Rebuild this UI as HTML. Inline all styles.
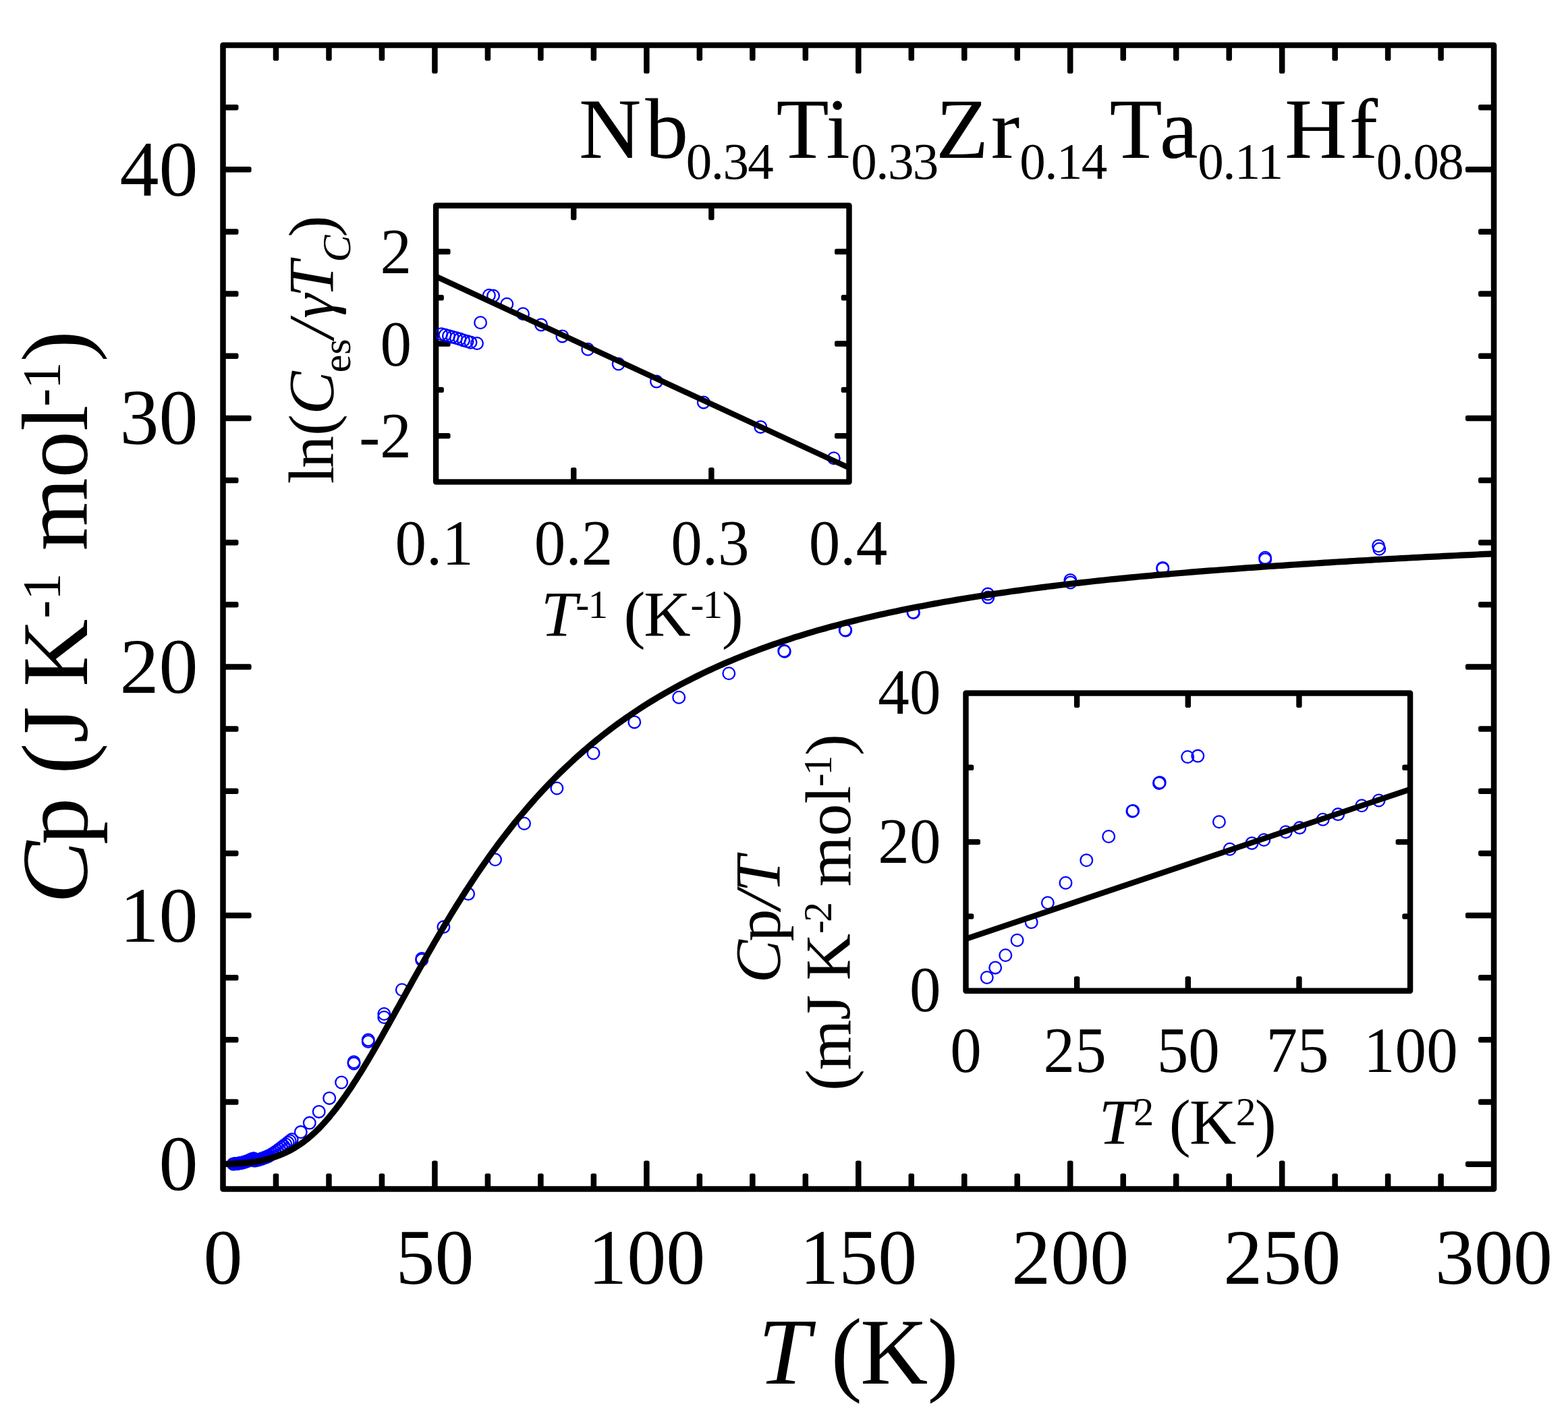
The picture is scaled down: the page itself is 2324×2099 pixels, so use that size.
<!DOCTYPE html>
<html lang="en">
<head>
<meta charset="utf-8">
<title>Specific heat of Nb0.34Ti0.33Zr0.14Ta0.11Hf0.08</title>
<style>html,body{margin:0;padding:0;background:#fff}svg{display:block}</style>
</head>
<body>
<svg width="2324" height="2099" viewBox="0 0 2324 2099" font-family="'Liberation Serif', serif" fill="#000">
<rect width="2324" height="2099" fill="#fff"/>
<defs>
<clipPath id="c_main"><rect x="330.5" y="67.0" width="1883.60" height="1695.50"/></clipPath>
<clipPath id="c_in1"><rect x="646.1" y="304.7" width="612.40" height="409.70"/></clipPath>
<clipPath id="c_in2"><rect x="1431.5" y="1027.5" width="658.60" height="441.20"/></clipPath>
</defs>
<rect x="330.5" y="67.0" width="1883.60" height="1695.50" fill="none" stroke="#000" stroke-width="8.5" stroke-linejoin="round"/>
<g fill="#000"><rect x="640.18" y="1720.40" width="8.5" height="43.10" rx="2.8"/><rect x="640.18" y="66.00" width="8.5" height="43.10" rx="2.8"/><rect x="954.12" y="1720.40" width="8.5" height="43.10" rx="2.8"/><rect x="954.12" y="66.00" width="8.5" height="43.10" rx="2.8"/><rect x="1268.05" y="1720.40" width="8.5" height="43.10" rx="2.8"/><rect x="1268.05" y="66.00" width="8.5" height="43.10" rx="2.8"/><rect x="1581.98" y="1720.40" width="8.5" height="43.10" rx="2.8"/><rect x="1581.98" y="66.00" width="8.5" height="43.10" rx="2.8"/><rect x="1895.92" y="1720.40" width="8.5" height="43.10" rx="2.8"/><rect x="1895.92" y="66.00" width="8.5" height="43.10" rx="2.8"/><rect x="404.73" y="1739.50" width="8.5" height="24.00" rx="2.8"/><rect x="404.73" y="66.00" width="8.5" height="24.00" rx="2.8"/><rect x="483.22" y="1739.50" width="8.5" height="24.00" rx="2.8"/><rect x="483.22" y="66.00" width="8.5" height="24.00" rx="2.8"/><rect x="561.70" y="1739.50" width="8.5" height="24.00" rx="2.8"/><rect x="561.70" y="66.00" width="8.5" height="24.00" rx="2.8"/><rect x="718.67" y="1739.50" width="8.5" height="24.00" rx="2.8"/><rect x="718.67" y="66.00" width="8.5" height="24.00" rx="2.8"/><rect x="797.15" y="1739.50" width="8.5" height="24.00" rx="2.8"/><rect x="797.15" y="66.00" width="8.5" height="24.00" rx="2.8"/><rect x="875.63" y="1739.50" width="8.5" height="24.00" rx="2.8"/><rect x="875.63" y="66.00" width="8.5" height="24.00" rx="2.8"/><rect x="1032.60" y="1739.50" width="8.5" height="24.00" rx="2.8"/><rect x="1032.60" y="66.00" width="8.5" height="24.00" rx="2.8"/><rect x="1111.08" y="1739.50" width="8.5" height="24.00" rx="2.8"/><rect x="1111.08" y="66.00" width="8.5" height="24.00" rx="2.8"/><rect x="1189.57" y="1739.50" width="8.5" height="24.00" rx="2.8"/><rect x="1189.57" y="66.00" width="8.5" height="24.00" rx="2.8"/><rect x="1346.53" y="1739.50" width="8.5" height="24.00" rx="2.8"/><rect x="1346.53" y="66.00" width="8.5" height="24.00" rx="2.8"/><rect x="1425.02" y="1739.50" width="8.5" height="24.00" rx="2.8"/><rect x="1425.02" y="66.00" width="8.5" height="24.00" rx="2.8"/><rect x="1503.50" y="1739.50" width="8.5" height="24.00" rx="2.8"/><rect x="1503.50" y="66.00" width="8.5" height="24.00" rx="2.8"/><rect x="1660.47" y="1739.50" width="8.5" height="24.00" rx="2.8"/><rect x="1660.47" y="66.00" width="8.5" height="24.00" rx="2.8"/><rect x="1738.95" y="1739.50" width="8.5" height="24.00" rx="2.8"/><rect x="1738.95" y="66.00" width="8.5" height="24.00" rx="2.8"/><rect x="1817.43" y="1739.50" width="8.5" height="24.00" rx="2.8"/><rect x="1817.43" y="66.00" width="8.5" height="24.00" rx="2.8"/><rect x="1974.40" y="1739.50" width="8.5" height="24.00" rx="2.8"/><rect x="1974.40" y="66.00" width="8.5" height="24.00" rx="2.8"/><rect x="2052.88" y="1739.50" width="8.5" height="24.00" rx="2.8"/><rect x="2052.88" y="66.00" width="8.5" height="24.00" rx="2.8"/><rect x="2131.37" y="1739.50" width="8.5" height="24.00" rx="2.8"/><rect x="2131.37" y="66.00" width="8.5" height="24.00" rx="2.8"/><rect x="329.50" y="1721.39" width="43.10" height="8.5" rx="2.8"/><rect x="2172.00" y="1721.39" width="43.10" height="8.5" rx="2.8"/><rect x="329.50" y="1352.80" width="43.10" height="8.5" rx="2.8"/><rect x="2172.00" y="1352.80" width="43.10" height="8.5" rx="2.8"/><rect x="329.50" y="984.22" width="43.10" height="8.5" rx="2.8"/><rect x="2172.00" y="984.22" width="43.10" height="8.5" rx="2.8"/><rect x="329.50" y="615.63" width="43.10" height="8.5" rx="2.8"/><rect x="2172.00" y="615.63" width="43.10" height="8.5" rx="2.8"/><rect x="329.50" y="247.04" width="43.10" height="8.5" rx="2.8"/><rect x="2172.00" y="247.04" width="43.10" height="8.5" rx="2.8"/><rect x="329.50" y="1629.24" width="24.00" height="8.5" rx="2.8"/><rect x="2191.10" y="1629.24" width="24.00" height="8.5" rx="2.8"/><rect x="329.50" y="1537.10" width="24.00" height="8.5" rx="2.8"/><rect x="2191.10" y="1537.10" width="24.00" height="8.5" rx="2.8"/><rect x="329.50" y="1444.95" width="24.00" height="8.5" rx="2.8"/><rect x="2191.10" y="1444.95" width="24.00" height="8.5" rx="2.8"/><rect x="329.50" y="1260.66" width="24.00" height="8.5" rx="2.8"/><rect x="2191.10" y="1260.66" width="24.00" height="8.5" rx="2.8"/><rect x="329.50" y="1168.51" width="24.00" height="8.5" rx="2.8"/><rect x="2191.10" y="1168.51" width="24.00" height="8.5" rx="2.8"/><rect x="329.50" y="1076.36" width="24.00" height="8.5" rx="2.8"/><rect x="2191.10" y="1076.36" width="24.00" height="8.5" rx="2.8"/><rect x="329.50" y="892.07" width="24.00" height="8.5" rx="2.8"/><rect x="2191.10" y="892.07" width="24.00" height="8.5" rx="2.8"/><rect x="329.50" y="799.92" width="24.00" height="8.5" rx="2.8"/><rect x="2191.10" y="799.92" width="24.00" height="8.5" rx="2.8"/><rect x="329.50" y="707.78" width="24.00" height="8.5" rx="2.8"/><rect x="2191.10" y="707.78" width="24.00" height="8.5" rx="2.8"/><rect x="329.50" y="523.48" width="24.00" height="8.5" rx="2.8"/><rect x="2191.10" y="523.48" width="24.00" height="8.5" rx="2.8"/><rect x="329.50" y="431.34" width="24.00" height="8.5" rx="2.8"/><rect x="2191.10" y="431.34" width="24.00" height="8.5" rx="2.8"/><rect x="329.50" y="339.19" width="24.00" height="8.5" rx="2.8"/><rect x="2191.10" y="339.19" width="24.00" height="8.5" rx="2.8"/><rect x="329.50" y="154.90" width="24.00" height="8.5" rx="2.8"/><rect x="2191.10" y="154.90" width="24.00" height="8.5" rx="2.8"/></g>
<text x="330.50" y="1902.50" font-size="116" text-anchor="middle">0</text>
<text x="644.43" y="1902.50" font-size="116" text-anchor="middle">50</text>
<text x="958.37" y="1902.50" font-size="116" text-anchor="middle">100</text>
<text x="1272.30" y="1902.50" font-size="116" text-anchor="middle">150</text>
<text x="1586.23" y="1902.50" font-size="116" text-anchor="middle">200</text>
<text x="1900.17" y="1902.50" font-size="116" text-anchor="middle">250</text>
<text x="2214.10" y="1902.50" font-size="116" text-anchor="middle">300</text>
<text x="293.62" y="1764.24" font-size="116" text-anchor="end">0</text>
<text x="293.62" y="1395.65" font-size="116" text-anchor="end">10</text>
<text x="293.62" y="1027.07" font-size="116" text-anchor="end">20</text>
<text x="293.62" y="658.48" font-size="116" text-anchor="end">30</text>
<text x="293.62" y="289.89" font-size="116" text-anchor="end">40</text>
<text font-size="139"><tspan x="1123.81" y="2050.80" font-style="italic">T </tspan><tspan x="1231.59" y="2050.80">(</tspan><tspan x="1274.90" y="2050.80">K</tspan><tspan x="1374.52" y="2050.80">)</tspan></text>
<text transform="translate(129.20 0) rotate(-90)" font-size="139"><tspan x="-1339.54" y="0.00" font-style="italic">C</tspan><tspan x="-1252.04" y="0.00">p </tspan><tspan x="-1147.81" y="0.00">(</tspan><tspan x="-1101.62" y="0.00">J </tspan><tspan x="-1017.90" y="0.00">K</tspan><tspan x="-916.81" y="-40.50" font-size="81">-</tspan><tspan x="-890.12" y="-40.50" font-size="81">1 </tspan><tspan x="-816.52" y="0.00">mol</tspan><tspan x="-602.71" y="-40.50" font-size="81">-</tspan><tspan x="-576.92" y="-40.50" font-size="81">1</tspan><tspan x="-536.48" y="0.00">)</tspan></text>
<text font-size="128"><tspan x="858.11" y="234.20">N</tspan><tspan x="956.30" y="234.20">b</tspan><tspan x="1016.87" y="265.10" font-size="77" letter-spacing="-1.6">0.34</tspan><tspan x="1150.59" y="234.20">Ti</tspan><tspan x="1261.37" y="265.10" font-size="77" letter-spacing="-1.6">0.33</tspan><tspan x="1386.97" y="234.20">Z</tspan><tspan x="1468.74" y="234.20">r</tspan><tspan x="1511.37" y="265.10" font-size="77" letter-spacing="-1.6">0.14</tspan><tspan x="1644.49" y="234.20">T</tspan><tspan x="1718.70" y="234.20">a</tspan><tspan x="1775.27" y="265.10" font-size="77" letter-spacing="-1.6">0.11</tspan><tspan x="1904.11" y="234.20">H</tspan><tspan x="1999.56" y="234.20">f</tspan><tspan x="2039.87" y="265.10" font-size="77" letter-spacing="-1.6">0.08</tspan></text>
<g clip-path="url(#c_main)" fill="none" stroke="#0000ff" stroke-width="2.3"><circle cx="345.6" cy="1725.4" r="8.85"/><circle cx="347.0" cy="1725.3" r="8.85"/><circle cx="348.3" cy="1725.2" r="8.85"/><circle cx="349.7" cy="1725.1" r="8.85"/><circle cx="351.1" cy="1724.9" r="8.85"/><circle cx="352.5" cy="1724.7" r="8.85"/><circle cx="353.9" cy="1724.5" r="8.85"/><circle cx="355.2" cy="1724.2" r="8.85"/><circle cx="356.6" cy="1724.0" r="8.85"/><circle cx="358.0" cy="1723.7" r="8.85"/><circle cx="359.4" cy="1723.4" r="8.85"/><circle cx="360.8" cy="1723.1" r="8.85"/><circle cx="362.1" cy="1722.7" r="8.85"/><circle cx="363.5" cy="1722.2" r="8.85"/><circle cx="364.9" cy="1721.8" r="8.85"/><circle cx="366.3" cy="1721.3" r="8.85"/><circle cx="367.7" cy="1720.7" r="8.85"/><circle cx="369.1" cy="1720.2" r="8.85"/><circle cx="370.4" cy="1719.5" r="8.85"/><circle cx="371.8" cy="1718.9" r="8.85"/><circle cx="373.2" cy="1718.3" r="8.85"/><circle cx="374.6" cy="1717.8" r="8.85"/><circle cx="376.0" cy="1717.2" r="8.85"/><circle cx="377.3" cy="1720.6" r="8.85"/><circle cx="378.7" cy="1720.3" r="8.85"/><circle cx="380.1" cy="1720.0" r="8.85"/><circle cx="381.5" cy="1719.6" r="8.85"/><circle cx="382.9" cy="1719.2" r="8.85"/><circle cx="384.2" cy="1718.8" r="8.85"/><circle cx="385.6" cy="1718.4" r="8.85"/><circle cx="387.0" cy="1718.0" r="8.85"/><circle cx="388.4" cy="1717.5" r="8.85"/><circle cx="389.8" cy="1717.0" r="8.85"/><circle cx="391.2" cy="1716.5" r="8.85"/><circle cx="392.5" cy="1716.0" r="8.85"/><circle cx="393.9" cy="1715.5" r="8.85"/><circle cx="395.3" cy="1714.9" r="8.85"/><circle cx="396.7" cy="1714.3" r="8.85"/><circle cx="398.1" cy="1713.7" r="8.85"/><circle cx="398.3" cy="1713.4" r="8.85"/><circle cx="401.4" cy="1711.8" r="8.85"/><circle cx="404.6" cy="1710.0" r="8.85"/><circle cx="407.7" cy="1707.9" r="8.85"/><circle cx="410.9" cy="1705.8" r="8.85"/><circle cx="414.0" cy="1703.4" r="8.85"/><circle cx="417.1" cy="1701.0" r="8.85"/><circle cx="420.3" cy="1698.6" r="8.85"/><circle cx="423.4" cy="1696.2" r="8.85"/><circle cx="426.6" cy="1693.8" r="8.85"/><circle cx="429.7" cy="1691.3" r="8.85"/><circle cx="432.7" cy="1689.0" r="8.85"/><circle cx="445.8" cy="1678.1" r="8.85"/><circle cx="458.8" cy="1664.6" r="8.85"/><circle cx="472.7" cy="1647.9" r="8.85"/><circle cx="488.2" cy="1627.9" r="8.85"/><circle cx="506.1" cy="1604.5" r="8.85"/><circle cx="524.5" cy="1574.3" r="8.85"/><circle cx="524.5" cy="1576.5" r="8.85"/><circle cx="545.8" cy="1541.5" r="8.85"/><circle cx="545.8" cy="1544.0" r="8.85"/><circle cx="569.3" cy="1503.0" r="8.85"/><circle cx="569.3" cy="1508.0" r="8.85"/><circle cx="595.8" cy="1467.2" r="8.85"/><circle cx="625.2" cy="1421.0" r="8.85"/><circle cx="625.2" cy="1423.0" r="8.85"/><circle cx="657.4" cy="1374.1" r="8.85"/><circle cx="694.1" cy="1325.1" r="8.85"/><circle cx="734.0" cy="1274.3" r="8.85"/><circle cx="777.0" cy="1220.7" r="8.85"/><circle cx="825.4" cy="1168.5" r="8.85"/><circle cx="879.5" cy="1116.5" r="8.85"/><circle cx="940.3" cy="1070.4" r="8.85"/><circle cx="1006.2" cy="1033.7" r="8.85"/><circle cx="1080.3" cy="998.3" r="8.85"/><circle cx="1162.2" cy="964.8" r="8.85"/><circle cx="1162.8" cy="965.8" r="8.85"/><circle cx="1252.7" cy="933.8" r="8.85"/><circle cx="1253.3" cy="934.6" r="8.85"/><circle cx="1353.5" cy="907.5" r="8.85"/><circle cx="1354.0" cy="908.3" r="8.85"/><circle cx="1464.1" cy="880.6" r="8.85"/><circle cx="1464.4" cy="885.6" r="8.85"/><circle cx="1586.4" cy="860.0" r="8.85"/><circle cx="1586.6" cy="863.5" r="8.85"/><circle cx="1723.3" cy="842.9" r="8.85"/><circle cx="1723.3" cy="841.9" r="8.85"/><circle cx="1875.1" cy="826.7" r="8.85"/><circle cx="1875.3" cy="829.2" r="8.85"/><circle cx="2043.1" cy="809.3" r="8.85"/><circle cx="2044.3" cy="813.8" r="8.85"/></g>
<path d="M330.5 1725.6 L333.6 1725.5 L336.8 1725.4 L339.9 1725.3 L343.1 1725.2 L346.2 1725.1 L349.3 1724.9 L352.5 1724.7 L355.6 1724.5 L358.8 1724.3 L361.9 1724.0 L365.0 1723.7 L368.2 1723.4 L371.3 1723.1 L374.5 1722.6 L377.6 1722.2 L380.7 1721.7 L383.9 1721.1 L387.0 1720.5 L390.1 1719.8 L393.3 1719.0 L396.4 1718.2 L399.6 1717.3 L402.7 1716.4 L405.8 1715.4 L409.0 1714.4 L412.1 1713.2 L415.3 1712.1 L418.4 1710.8 L421.5 1709.4 L424.7 1708.0 L427.8 1706.4 L431.0 1704.8 L434.1 1703.0 L437.2 1701.2 L440.4 1699.2 L443.5 1697.2 L446.7 1695.0 L449.8 1692.7 L452.9 1690.4 L456.1 1687.9 L459.2 1685.3 L462.4 1682.5 L465.5 1679.7 L468.6 1676.7 L471.8 1673.7 L474.9 1670.5 L478.0 1667.2 L481.2 1663.7 L484.3 1660.2 L487.5 1656.5 L490.6 1652.7 L493.7 1648.9 L496.9 1644.9 L500.0 1640.8 L503.2 1636.6 L506.3 1632.3 L509.4 1627.9 L512.6 1623.4 L515.7 1618.8 L518.9 1614.2 L522.0 1609.4 L525.1 1604.6 L528.3 1599.7 L531.4 1594.7 L534.6 1589.7 L537.7 1584.6 L540.8 1579.4 L544.0 1574.2 L547.1 1568.9 L550.3 1563.5 L553.4 1558.1 L556.5 1552.7 L559.7 1547.2 L562.8 1541.7 L566.0 1536.2 L569.1 1530.6 L572.2 1525.0 L575.4 1519.4 L578.5 1513.8 L581.6 1508.2 L584.8 1502.5 L587.9 1496.8 L591.1 1491.2 L594.2 1485.5 L597.3 1479.9 L600.5 1474.2 L603.6 1468.5 L606.8 1462.9 L609.9 1457.2 L613.0 1451.6 L616.2 1446.0 L619.3 1440.4 L622.5 1434.8 L625.6 1429.2 L628.7 1423.7 L631.9 1418.2 L635.0 1412.6 L638.2 1407.2 L641.3 1401.7 L644.4 1396.3 L647.6 1390.9 L650.7 1385.5 L653.9 1380.2 L657.0 1374.8 L660.1 1369.6 L663.3 1364.3 L666.4 1359.2 L669.5 1354.0 L672.7 1348.9 L675.8 1343.8 L679.0 1338.8 L682.1 1333.8 L685.2 1328.8 L688.4 1323.9 L691.5 1319.0 L694.7 1314.2 L697.8 1309.4 L700.9 1304.7 L704.1 1300.0 L707.2 1295.3 L713.5 1286.1 L719.8 1277.1 L726.1 1268.2 L732.3 1259.6 L738.6 1251.1 L744.9 1242.7 L751.2 1234.6 L757.4 1226.6 L763.7 1218.7 L770.0 1211.1 L776.3 1203.6 L782.6 1196.2 L788.8 1189.1 L795.1 1182.0 L801.4 1175.2 L807.7 1168.4 L814.0 1161.8 L820.2 1155.4 L826.5 1149.1 L832.8 1142.9 L839.1 1136.9 L845.4 1131.0 L851.6 1125.2 L857.9 1119.5 L864.2 1114.0 L870.5 1108.6 L876.7 1103.3 L883.0 1098.1 L889.3 1093.0 L895.6 1088.0 L901.9 1083.2 L908.1 1078.4 L914.4 1073.8 L920.7 1069.2 L927.0 1064.8 L933.3 1060.4 L939.5 1056.2 L945.8 1052.0 L952.1 1047.9 L958.4 1043.9 L964.6 1040.0 L970.9 1036.2 L977.2 1032.4 L983.5 1028.8 L989.8 1025.2 L996.0 1021.7 L1002.3 1018.2 L1008.6 1014.8 L1014.9 1011.5 L1021.2 1008.3 L1027.4 1005.1 L1033.7 1002.0 L1040.0 998.9 L1046.3 995.9 L1052.5 993.0 L1058.8 990.1 L1065.1 987.3 L1071.4 984.5 L1077.7 981.8 L1083.9 979.2 L1090.2 976.5 L1096.5 974.0 L1102.8 971.5 L1109.1 969.0 L1115.3 966.6 L1121.6 964.2 L1127.9 961.9 L1134.2 959.6 L1140.4 957.4 L1146.7 955.2 L1153.0 953.0 L1159.3 950.9 L1165.6 948.8 L1171.8 946.8 L1178.1 944.7 L1184.4 942.8 L1190.7 940.8 L1197.0 938.9 L1203.2 937.1 L1209.5 935.2 L1215.8 933.4 L1222.1 931.7 L1228.3 929.9 L1234.6 928.2 L1240.9 926.6 L1247.2 924.9 L1253.5 923.3 L1259.7 921.7 L1266.0 920.2 L1272.3 918.6 L1278.6 917.1 L1284.9 915.6 L1291.1 914.2 L1297.4 912.7 L1303.7 911.3 L1310.0 909.9 L1316.3 908.6 L1322.5 907.2 L1328.8 905.9 L1335.1 904.6 L1341.4 903.3 L1347.6 902.1 L1353.9 900.8 L1360.2 899.6 L1366.5 898.4 L1372.8 897.2 L1379.0 896.0 L1385.3 894.9 L1391.6 893.8 L1397.9 892.6 L1404.2 891.5 L1410.4 890.5 L1416.7 889.4 L1423.0 888.3 L1429.3 887.3 L1435.5 886.3 L1441.8 885.3 L1448.1 884.3 L1454.4 883.3 L1460.7 882.3 L1466.9 881.4 L1473.2 880.4 L1479.5 879.5 L1485.8 878.6 L1492.1 877.7 L1498.3 876.8 L1504.6 875.9 L1510.9 875.1 L1517.2 874.2 L1523.4 873.4 L1529.7 872.5 L1536.0 871.7 L1542.3 870.9 L1548.6 870.1 L1554.8 869.3 L1561.1 868.6 L1567.4 867.8 L1573.7 867.0 L1580.0 866.3 L1586.2 865.5 L1592.5 864.8 L1598.8 864.1 L1605.1 863.4 L1611.3 862.7 L1617.6 862.0 L1623.9 861.3 L1630.2 860.6 L1636.5 860.0 L1642.7 859.3 L1649.0 858.7 L1655.3 858.1 L1661.6 857.4 L1667.9 856.8 L1674.1 856.2 L1680.4 855.6 L1686.7 855.0 L1693.0 854.4 L1699.2 853.9 L1705.5 853.3 L1711.8 852.7 L1718.1 852.2 L1724.4 851.6 L1730.6 851.1 L1736.9 850.5 L1743.2 850.0 L1749.5 849.5 L1755.8 849.0 L1762.0 848.4 L1768.3 847.9 L1774.6 847.4 L1780.9 846.9 L1787.2 846.4 L1793.4 845.9 L1799.7 845.5 L1806.0 845.0 L1812.3 844.5 L1818.5 844.0 L1824.8 843.6 L1831.1 843.1 L1837.4 842.7 L1843.7 842.2 L1849.9 841.7 L1856.2 841.3 L1862.5 840.9 L1868.8 840.4 L1875.1 840.0 L1881.3 839.5 L1887.6 839.1 L1893.9 838.7 L1900.2 838.3 L1906.4 837.8 L1912.7 837.4 L1919.0 837.0 L1925.3 836.6 L1931.6 836.2 L1937.8 835.8 L1944.1 835.4 L1950.4 835.0 L1956.7 834.6 L1963.0 834.2 L1969.2 833.8 L1975.5 833.4 L1981.8 833.0 L1988.1 832.7 L1994.3 832.3 L2000.6 831.9 L2006.9 831.5 L2013.2 831.2 L2019.5 830.8 L2025.7 830.5 L2032.0 830.1 L2038.3 829.7 L2044.6 829.4 L2050.9 829.0 L2057.1 828.7 L2063.4 828.4 L2069.7 828.0 L2076.0 827.7 L2082.2 827.4 L2088.5 827.0 L2094.8 826.7 L2101.1 826.4 L2107.4 826.0 L2113.6 825.7 L2119.9 825.4 L2126.2 825.1 L2132.5 824.8 L2138.8 824.4 L2145.0 824.1 L2151.3 823.8 L2157.6 823.5 L2163.9 823.2 L2170.1 822.9 L2176.4 822.6 L2182.7 822.3 L2189.0 822.0 L2195.3 821.7 L2201.5 821.4 L2207.8 821.1 L2214.1 820.9" fill="none" stroke="#000" stroke-width="9.2" stroke-linejoin="round" clip-path="url(#c_main)"/>
<rect x="646.1" y="304.7" width="612.40" height="409.70" fill="none" stroke="#000" stroke-width="8.4" stroke-linejoin="round"/>
<g fill="#000"><rect x="846.03" y="692.90" width="8.4" height="22.50" rx="2.8"/><rect x="846.03" y="303.70" width="8.4" height="22.50" rx="2.8"/><rect x="1050.17" y="692.90" width="8.4" height="22.50" rx="2.8"/><rect x="1050.17" y="303.70" width="8.4" height="22.50" rx="2.8"/><rect x="645.10" y="368.78" width="22.50" height="8.4" rx="2.8"/><rect x="1237.00" y="368.78" width="22.50" height="8.4" rx="2.8"/><rect x="645.10" y="505.35" width="22.50" height="8.4" rx="2.8"/><rect x="1237.00" y="505.35" width="22.50" height="8.4" rx="2.8"/><rect x="645.10" y="641.92" width="22.50" height="8.4" rx="2.8"/><rect x="1237.00" y="641.92" width="22.50" height="8.4" rx="2.8"/><rect x="645.10" y="437.07" width="12.80" height="8.4" rx="2.8"/><rect x="1246.70" y="437.07" width="12.80" height="8.4" rx="2.8"/><rect x="645.10" y="573.63" width="12.80" height="8.4" rx="2.8"/><rect x="1246.70" y="573.63" width="12.80" height="8.4" rx="2.8"/></g>
<text transform="translate(643.60 836.60) scale(0.97 1)" font-size="96" text-anchor="middle">0.1</text>
<text transform="translate(850.03 836.60) scale(0.97 1)" font-size="96" text-anchor="middle">0.2</text>
<text transform="translate(1052.37 836.60) scale(0.97 1)" font-size="96" text-anchor="middle">0.3</text>
<text transform="translate(1257.00 836.60) scale(0.97 1)" font-size="96" text-anchor="middle">0.4</text>
<text transform="translate(609.94 404.98) scale(0.97 1)" font-size="96" text-anchor="end">2</text>
<text transform="translate(609.94 541.55) scale(0.97 1)" font-size="96" text-anchor="end">0</text>
<text transform="translate(609.94 678.12) scale(0.97 1)" font-size="96" text-anchor="end">-2</text>
<text font-size="96"><tspan x="801.72" y="943.00" font-style="italic">T</tspan><tspan x="853.59" y="915.50" font-size="59.5">-</tspan><tspan x="871.47" y="915.50" font-size="59.5">1 </tspan><tspan x="924.58" y="943.00">(</tspan><tspan x="954.23" y="943.00">K</tspan><tspan x="1023.49" y="915.50" font-size="59.5">-</tspan><tspan x="1041.57" y="915.50" font-size="59.5">1</tspan><tspan x="1069.81" y="943.00">)</tspan></text>
<text transform="translate(494.00 0) rotate(-90)" font-size="96"><tspan x="-717.32" y="0.00">l</tspan><tspan x="-694.00" y="0.00">n</tspan><tspan x="-645.92" y="0.00">(</tspan><tspan x="-614.44" y="0.00" font-style="italic">C</tspan><tspan x="-552.24" y="24.80" font-size="60">e</tspan><tspan x="-525.76" y="24.80" font-size="60">s</tspan><tspan x="-501.59" y="0.00" font-style="italic">/</tspan><tspan x="-471.96" y="0.00" font-size="92" font-style="italic">γ</tspan><tspan x="-440.38" y="0.00" font-style="italic">T</tspan><tspan x="-388.54" y="24.80" font-size="60" font-style="italic">C</tspan><tspan x="-351.39" y="0.00">)</tspan></text>
<g clip-path="url(#c_in1)" fill="none" stroke="#0000ff" stroke-width="2.3"><circle cx="654.2" cy="495.3" r="8.85"/><circle cx="659.5" cy="496.5" r="8.85"/><circle cx="665.0" cy="498.0" r="8.85"/><circle cx="670.5" cy="499.5" r="8.85"/><circle cx="676.0" cy="501.0" r="8.85"/><circle cx="681.5" cy="502.5" r="8.85"/><circle cx="687.0" cy="504.5" r="8.85"/><circle cx="692.5" cy="506.0" r="8.85"/><circle cx="697.5" cy="507.5" r="8.85"/><circle cx="707.0" cy="509.0" r="8.85"/><circle cx="712.1" cy="478.3" r="8.85"/><circle cx="724.9" cy="437.7" r="8.85"/><circle cx="731.1" cy="438.5" r="8.85"/><circle cx="751.3" cy="450.7" r="8.85"/><circle cx="775.1" cy="465.3" r="8.85"/><circle cx="802.1" cy="481.4" r="8.85"/><circle cx="833.4" cy="498.4" r="8.85"/><circle cx="871.3" cy="517.8" r="8.85"/><circle cx="916.7" cy="539.5" r="8.85"/><circle cx="973.0" cy="565.6" r="8.85"/><circle cx="1042.8" cy="596.4" r="8.85"/><circle cx="1127.3" cy="632.9" r="8.85"/><circle cx="1235.8" cy="679.3" r="8.85"/></g>
<path d="M640 406.89L1265 696.55" fill="none" stroke="#000" stroke-width="8.3" clip-path="url(#c_in1)"/>
<rect x="1431.5" y="1027.5" width="658.60" height="441.20" fill="none" stroke="#000" stroke-width="8.4" stroke-linejoin="round"/>
<g fill="#000"><rect x="1591.95" y="1447.20" width="8.4" height="22.50" rx="2.8"/><rect x="1591.95" y="1026.50" width="8.4" height="22.50" rx="2.8"/><rect x="1756.60" y="1447.20" width="8.4" height="22.50" rx="2.8"/><rect x="1756.60" y="1026.50" width="8.4" height="22.50" rx="2.8"/><rect x="1921.25" y="1447.20" width="8.4" height="22.50" rx="2.8"/><rect x="1921.25" y="1026.50" width="8.4" height="22.50" rx="2.8"/><rect x="1430.50" y="1243.90" width="22.50" height="8.4" rx="2.8"/><rect x="2068.60" y="1243.90" width="22.50" height="8.4" rx="2.8"/><rect x="1430.50" y="1354.20" width="12.80" height="8.4" rx="2.8"/><rect x="2078.30" y="1354.20" width="12.80" height="8.4" rx="2.8"/><rect x="1430.50" y="1133.60" width="12.80" height="8.4" rx="2.8"/><rect x="2078.30" y="1133.60" width="12.80" height="8.4" rx="2.8"/></g>
<text transform="translate(1431.50 1589.10) scale(0.97 1)" font-size="96" text-anchor="middle">0</text>
<text transform="translate(1593.15 1589.10) scale(0.97 1)" font-size="96" text-anchor="middle">25</text>
<text transform="translate(1761.30 1589.10) scale(0.97 1)" font-size="96" text-anchor="middle">50</text>
<text transform="translate(1922.95 1589.10) scale(0.97 1)" font-size="96" text-anchor="middle">75</text>
<text transform="translate(2090.90 1589.10) scale(0.97 1)" font-size="96" text-anchor="middle">100</text>
<text transform="translate(1394.45 1499.40) scale(0.97 1)" font-size="96" text-anchor="end">0</text>
<text transform="translate(1394.45 1278.80) scale(0.97 1)" font-size="96" text-anchor="end">20</text>
<text transform="translate(1394.45 1058.20) scale(0.97 1)" font-size="96" text-anchor="end">40</text>
<text font-size="96"><tspan x="1628.62" y="1695.80" font-style="italic">T</tspan><tspan x="1680.59" y="1668.40" font-size="59.5">2 </tspan><tspan x="1732.68" y="1695.80">(</tspan><tspan x="1763.03" y="1695.80">K</tspan><tspan x="1831.69" y="1668.40" font-size="59.5">2</tspan><tspan x="1859.81" y="1695.80">)</tspan></text>
<text transform="translate(1156.00 0) rotate(-90)" font-size="96"><tspan x="-1457.34" y="0.00" font-style="italic">C</tspan><tspan x="-1395.55" y="0.00">p</tspan><tspan x="-1347.69" y="0.00" font-style="italic">/</tspan><tspan x="-1322.48" y="0.00" font-style="italic">T</tspan></text>
<text transform="translate(1259.90 0) rotate(-90)" font-size="96"><tspan x="-1616.92" y="0.00">(</tspan><tspan x="-1586.32" y="0.00">m</tspan><tspan x="-1512.02" y="0.00">J </tspan><tspan x="-1453.37" y="0.00">K</tspan><tspan x="-1384.11" y="-27.80" font-size="59.5">-</tspan><tspan x="-1366.81" y="-27.80" font-size="59.5">2 </tspan><tspan x="-1314.22" y="0.00">mol</tspan><tspan x="-1166.21" y="-27.80" font-size="59.5">-</tspan><tspan x="-1149.43" y="-27.80" font-size="59.5">1</tspan><tspan x="-1119.89" y="0.00">)</tspan></text>
<g clip-path="url(#c_in2)" fill="none" stroke="#0000ff" stroke-width="2.3"><circle cx="1462.8" cy="1449.0" r="8.85"/><circle cx="1475.2" cy="1434.4" r="8.85"/><circle cx="1490.3" cy="1416.0" r="8.85"/><circle cx="1507.6" cy="1393.8" r="8.85"/><circle cx="1528.7" cy="1367.1" r="8.85"/><circle cx="1552.9" cy="1338.3" r="8.85"/><circle cx="1579.5" cy="1308.7" r="8.85"/><circle cx="1610.3" cy="1275.2" r="8.85"/><circle cx="1643.2" cy="1240.0" r="8.85"/><circle cx="1678.4" cy="1202.4" r="8.85"/><circle cx="1679.2" cy="1201.9" r="8.85"/><circle cx="1718.0" cy="1160.9" r="8.85"/><circle cx="1718.8" cy="1159.9" r="8.85"/><circle cx="1760.2" cy="1122.0" r="8.85"/><circle cx="1775.3" cy="1120.6" r="8.85"/><circle cx="1806.9" cy="1218.3" r="8.85"/><circle cx="1822.8" cy="1258.7" r="8.85"/><circle cx="1855.5" cy="1249.9" r="8.85"/><circle cx="1873.3" cy="1245.0" r="8.85"/><circle cx="1905.7" cy="1233.2" r="8.85"/><circle cx="1926.3" cy="1227.1" r="8.85"/><circle cx="1960.7" cy="1214.8" r="8.85"/><circle cx="1983.2" cy="1207.1" r="8.85"/><circle cx="2018.3" cy="1194.2" r="8.85"/><circle cx="2043.6" cy="1186.5" r="8.85"/></g>
<path d="M1425 1394.07L2096 1167.97" fill="none" stroke="#000" stroke-width="8.5" clip-path="url(#c_in2)"/>
</svg>
</body>
</html>
